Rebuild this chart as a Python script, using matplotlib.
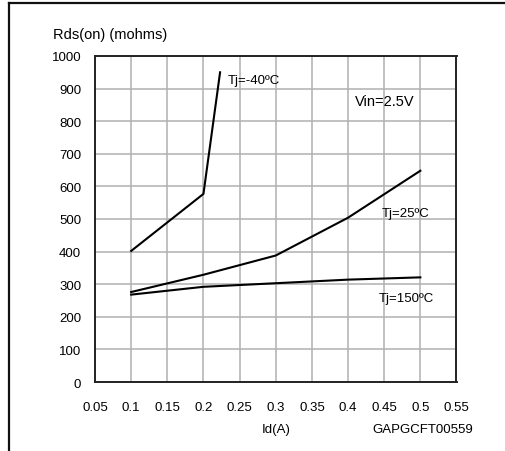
import matplotlib.pyplot as plt
from matplotlib.lines import Line2D

plt.rcParams['font.family'] = ['Liberation Sans', 'DejaVu Sans']

# Rds(on) x Id curves, Vin = 2.5V
id_m40 = [0.1, 0.2, 0.223]
rds_m40 = [402, 577, 950]

id_25 = [0.1, 0.2, 0.3, 0.4, 0.5]
rds_25 = [276, 329, 388, 504, 648]

id_150 = [0.1, 0.2, 0.3, 0.4, 0.5]
rds_150 = [268, 292, 303, 314, 321]

xticks = [0.05, 0.1, 0.15, 0.2, 0.25, 0.3, 0.35, 0.4, 0.45, 0.5, 0.55]
yticks = [0, 100, 200, 300, 400, 500, 600, 700, 800, 900, 1000]

fig = plt.figure(figsize=(5.05, 4.52), dpi=100)
ax = fig.add_axes([95 / 505, 1 - 383 / 452, (456.5 - 95) / 505, (383 - 57) / 452])

ax.plot(id_m40, rds_m40, color='black', lw=1.5)
ax.plot(id_25, rds_25, color='black', lw=1.5)
ax.plot(id_150, rds_150, color='black', lw=1.5)

ax.set_xlim(0.05, 0.55)
ax.set_ylim(0, 1000)
ax.set_xticks(xticks)
ax.set_xticklabels([('%g' % v) for v in xticks])
ax.set_yticks(yticks)
ax.grid(True, color='#b0b0b0', lw=1.1)
ax.set_axisbelow(True)
ax.tick_params(axis='both', length=0, labelsize=9.5)
ax.tick_params(axis='x', pad=14)
ax.tick_params(axis='y', pad=10)
for s in ax.spines.values():
    s.set_linewidth(1.4)
    s.set_color('#222222')

# etiquetas das curvas
ax.text(0.234, 927, 'Tj=-40ºC', fontsize=9.5, va='center')
ax.text(0.41, 863, 'Vin=2.5V', fontsize=10.5, va='center')
ax.text(0.447, 517, 'Tj=25ºC', fontsize=9.5, va='center')
ax.text(0.443, 258, 'Tj=150ºC', fontsize=9.5, va='center')

fig.text(53 / 505, 1 - 35 / 452, 'Rds(on) (mohms)', fontsize=10.5, va='center')
fig.text(276 / 505, 1 - 430 / 452, 'Id(A)', fontsize=9.5, va='center', ha='center')
fig.text(473 / 505, 1 - 430 / 452, 'GAPGCFT00559', fontsize=9.5, va='center', ha='right')

# moldura externa (só topo e lado esquerdo aparecem)
fig.add_artist(Line2D([9 / 505, 9 / 505], [0, 1 - 4 / 452], color='#111111', lw=1.6))
fig.add_artist(Line2D([9 / 505, 1], [1 - 4 / 452, 1 - 4 / 452], color='#111111', lw=1.6))

fig.savefig('out.png', dpi=100)
